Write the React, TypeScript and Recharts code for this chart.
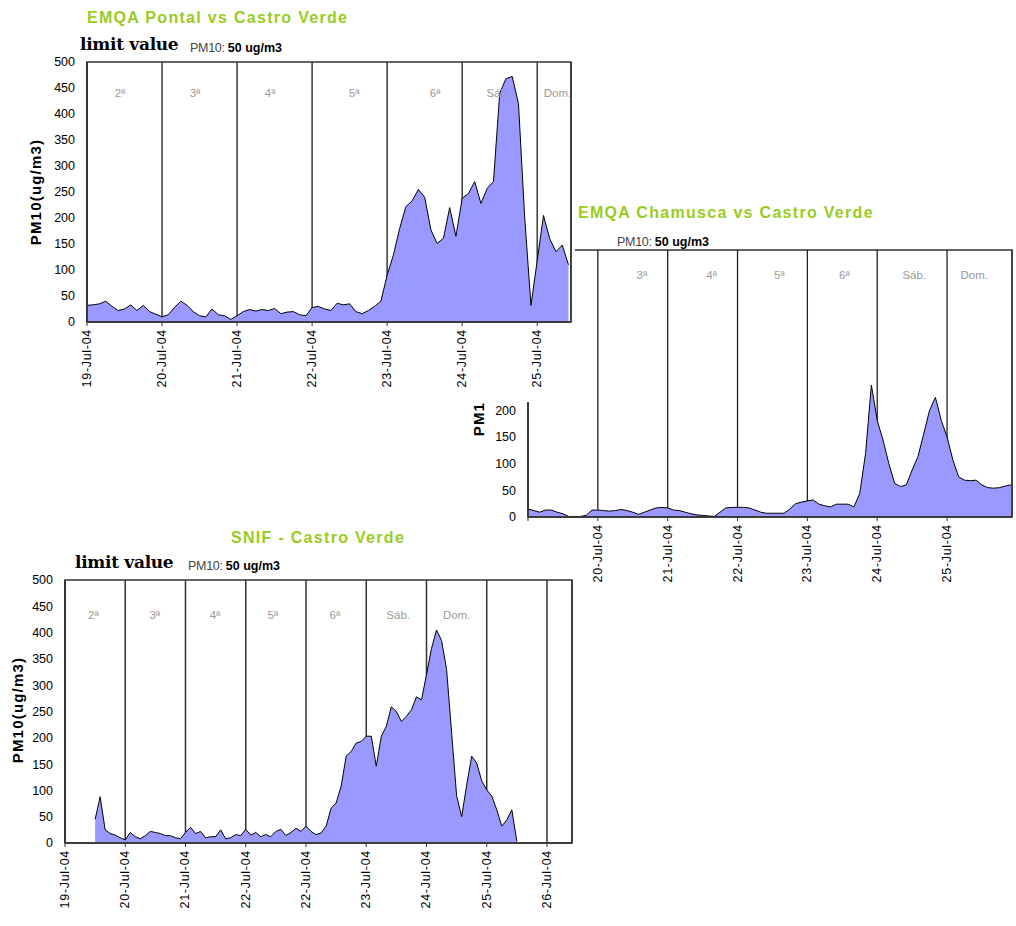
import React from 'react';
import { AreaChart, Area, XAxis, YAxis, CartesianGrid, ReferenceArea, ReferenceDot } from 'recharts';

const SANS = '"Liberation Sans", Arial, sans-serif';
const SERIF = '"DejaVu Serif", serif';
const STEP = 1 / 12; // two-hour readings, in days

const yTicks = [0, 50, 100, 150, 200, 250, 300, 350, 400, 450, 500];
const dayNames = ['2ª', '3ª', '4ª', '5ª', '6ª', 'Sáb.', 'Dom.'];

// ---- EMQA Pontal vs Castro Verde ----
const pontalStart = 0;
const pontalValues = [
  32, 33, 35, 40, 30, 22, 25, 33, 22, 32, 20, 15,
  10, 14, 28, 40, 32, 20, 12, 10, 25, 14, 12, 5,
  12, 20, 24, 21, 24, 22, 26, 16, 19, 20, 14, 12,
  28, 30, 25, 22, 36, 33, 35, 20, 16, 22, 30, 40,
  90, 129, 180, 222, 233, 255, 240, 177, 151, 161, 220, 165,
  238, 247, 270, 228, 257, 270, 440, 468, 472, 420, 200, 32,
  118, 205, 160, 135, 148, 110,
];
const pontalDates = ['19-Jul-04', '20-Jul-04', '21-Jul-04', '22-Jul-04', '23-Jul-04', '24-Jul-04', '25-Jul-04'];
const pontalDayNameAt = [0.44, 1.44, 2.44, 3.56, 4.64, 5.48, 6.27];

// ---- EMQA Chamusca vs Castro Verde ----
const chamuscaStart = 0;
const chamuscaValues = [
  15, 12, 9, 13, 13, 9, 6, 1, 1, 1, 3, 13,
  13, 12, 11, 12, 14, 12, 9, 5, 9, 13, 17, 18,
  17, 13, 12, 9, 6, 4, 3, 2, 1, 9, 17, 18,
  18, 18, 17, 13, 9, 7, 7, 7, 7, 15, 25, 28,
  30, 32, 24, 21, 19, 24, 24, 24, 19, 44, 119, 247,
  181, 144, 100, 63, 57, 60, 88, 113, 156, 200, 224, 181,
  150, 107, 75, 69, 68, 69, 60, 55, 54, 55, 58, 60,
];
const chamuscaDates = ['19-Jul-04', '20-Jul-04', '21-Jul-04', '22-Jul-04', '23-Jul-04', '24-Jul-04', '25-Jul-04'];
const chamuscaDayNameAt = [0.55, 1.63, 2.63, 3.6, 4.53, 5.53, 6.39];

// ---- SNIF - Castro Verde ----
const snifStart = 0.5;
const snifValues = [
  45, 88, 25, 18, 15, 10,
  6, 20, 12, 8, 14, 22, 20, 18, 14, 14, 10, 8,
  20, 30, 18, 22, 10, 12, 12, 25, 8, 10, 16, 14,
  26, 15, 20, 12, 16, 12, 22, 26, 14, 20, 28, 22,
  32, 22, 16, 19, 32, 66, 76, 108, 165, 174, 190, 193,
  203, 203, 146, 203, 222, 259, 250, 231, 241, 253, 278, 272,
  320, 370, 405, 385, 330, 210, 90, 50, 110, 165, 152, 118,
  101, 89, 63, 32, 44, 63, 3,
];
const snifDates = ['19-Jul-04', '20-Jul-04', '21-Jul-04', '22-Jul-04', '22-Jul-04', '23-Jul-04', '24-Jul-04', '25-Jul-04', '26-Jul-04'];
const snifDayNameAt = [0.47, 1.49, 2.49, 3.45, 4.48, 5.53, 6.5];

type PanelProps = {
  values: number[];
  start: number;
  dates: string[];
  dayNameAt: number[];
  dayNameY: number;
  xMax: number;
  width: number;
  height: number;
  margin: { top: number; right: number; bottom: number; left: number };
  xAxisHeight: number;
  gridStroke: string;
  gridWidth: number;
  dateFont: number;
};

function Panel(p: PanelProps) {
  const data = p.values.map((v, i) => ({ t: p.start + i * STEP, v }));
  const ticks = p.dates.map((_, i) => i);
  return (
    <AreaChart width={p.width} height={p.height} data={data} margin={p.margin}>
      <CartesianGrid horizontal={false} stroke={p.gridStroke} strokeWidth={p.gridWidth} />
      <XAxis
        type="number"
        dataKey="t"
        domain={[0, p.xMax]}
        ticks={ticks}
        interval={0}
        allowDataOverflow
        height={p.xAxisHeight}
        tickSize={4}
        tickMargin={3}
        tickLine={{ stroke: '#333' }}
        axisLine={{ stroke: '#333', strokeWidth: 1.5 }}
        tick={(tp: any) => (
          <text
            x={tp.x}
            y={tp.y}
            transform={`rotate(-90, ${tp.x}, ${tp.y})`}
            textAnchor="end"
            dominantBaseline="central"
            fontSize={p.dateFont}
            letterSpacing={0.7}
            fontFamily={SANS}
            fill="#000"
          >
            {p.dates[tp.payload.value]}
          </text>
        )}
      />
      <YAxis
        type="number"
        domain={[0, 500]}
        ticks={yTicks}
        interval={0}
        width={40}
        tickLine={false}
        tickSize={6}
        tickMargin={6}
        axisLine={{ stroke: '#333', strokeWidth: 1.5 }}
        tick={{ fill: '#000', fontSize: 12.5, fontFamily: SANS }}
      />
      <Area
        type="linear"
        dataKey="v"
        stroke="#000"
        strokeWidth={1}
        fill="#9999ff"
        fillOpacity={1}
        dot={false}
        activeDot={false}
        isAnimationActive={false}
      />
      <ReferenceArea x1={0} x2={p.xMax} y1={0} y2={500} fill="none" stroke="#333" strokeWidth={1.5} ifOverflow="visible" />
      {dayNames.map((n, i) => (
        <ReferenceDot
          key={i}
          x={p.dayNameAt[i]}
          y={p.dayNameY}
          r={0}
          ifOverflow="hidden"
          shape={(sp: any) => (
            <text
              x={sp.cx}
              y={sp.cy}
              clipPath={sp.clipPath}
              textAnchor="middle"
              dominantBaseline="central"
              fontSize={11.5}
              fontFamily={SANS}
              fill="#9a9a9a"
            >
              {n}
            </text>
          )}
        />
      ))}
    </AreaChart>
  );
}

const Txt = ({ left, top, children, style }: any) => (
  <div style={{ position: 'absolute', left, top, whiteSpace: 'nowrap', lineHeight: 1, ...style }}>{children}</div>
);

const YLabel = ({ cx, cy }: { cx: number; cy: number }) => (
  <div
    style={{
      position: 'absolute',
      left: cx,
      top: cy,
      transform: 'translate(-50%, -50%) rotate(-90deg)',
      whiteSpace: 'nowrap',
      fontFamily: SANS,
      fontWeight: 'bold',
      fontSize: 15,
      letterSpacing: 1.2,
      lineHeight: 1,
      color: '#000',
    }}
  >
    PM10(ug/m3)
  </div>
);

const titleStyle = { fontFamily: SANS, fontWeight: 'bold', fontSize: 16, letterSpacing: 1.3, color: '#99cc22' };
const limitStyle = { fontFamily: SERIF, fontWeight: 'bold', fontSize: 17, letterSpacing: -0.3, color: '#000' };

const Limit = () => (
  <span style={{ fontFamily: SANS, fontSize: 12.5, color: '#000' }}>
    <span style={{ color: '#444', letterSpacing: -0.3 }}>PM10: </span>
    <b>50 ug/m3</b>
  </span>
);

export default function App() {
  return (
    <div style={{ position: 'absolute', left: 0, top: 0, width: 1016, height: 926, background: '#fff', overflow: 'hidden' }}>
      {/* Chamusca (underneath) */}
      <div style={{ position: 'absolute', left: 440, top: 200, width: 576, height: 397 }}>
        <div style={{ position: 'absolute', left: 0, top: 0 }}>
          <Panel
            values={chamuscaValues}
            start={chamuscaStart}
            dates={chamuscaDates}
            dayNameAt={chamuscaDayNameAt}
            dayNameY={453}
            xMax={6.93}
            width={576}
            height={397}
            margin={{ top: 50, right: 4, bottom: 10, left: 48 }}
            xAxisHeight={70}
            gridStroke="#222"
            gridWidth={1.3}
            dateFont={12.5}
          />
        </div>
        <Txt left={138} top={5} style={titleStyle}>EMQA Chamusca vs Castro Verde</Txt>
        <Txt left={177} top={33}><Limit /></Txt>
        <YLabel cx={38} cy={183} />
      </div>

      {/* Pontal (on top) */}
      <div style={{ position: 'absolute', left: 0, top: 0, width: 575, height: 402, background: '#fff' }}>
        <div style={{ position: 'absolute', left: 0, top: 0 }}>
          <Panel
            values={pontalValues}
            start={pontalStart}
            dates={pontalDates}
            dayNameAt={pontalDayNameAt}
            dayNameY={441}
            xMax={6.45}
            width={575}
            height={402}
            margin={{ top: 62, right: 4, bottom: 10, left: 47 }}
            xAxisHeight={70}
            gridStroke="#444"
            gridWidth={1.6}
            dateFont={12.5}
          />
        </div>
        <Txt left={87} top={10} style={titleStyle}>EMQA Pontal vs Castro Verde</Txt>
        <Txt left={80} top={36} style={limitStyle}>limit value</Txt>
        <Txt left={190} top={39}><Limit /></Txt>
        <YLabel cx={35} cy={192} />
      </div>

      {/* SNIF (on top) */}
      <div style={{ position: 'absolute', left: 0, top: 524, width: 588, height: 402, background: '#fff' }}>
        <div style={{ position: 'absolute', left: 0, top: 0 }}>
          <Panel
            values={snifValues}
            start={snifStart}
            dates={snifDates}
            dayNameAt={snifDayNameAt}
            dayNameY={433}
            xMax={8.415}
            width={588}
            height={400}
            margin={{ top: 56, right: 16, bottom: 9, left: 25 }}
            xAxisHeight={72}
            gridStroke="#333"
            gridWidth={1.5}
            dateFont={12.5}
          />
        </div>
        <Txt left={231} top={6} style={titleStyle}>SNIF -  Castro Verde</Txt>
        <Txt left={75} top={30} style={limitStyle}>limit value</Txt>
        <Txt left={188} top={33}><Limit /></Txt>
        <YLabel cx={17} cy={186} />
      </div>
    </div>
  );
}
